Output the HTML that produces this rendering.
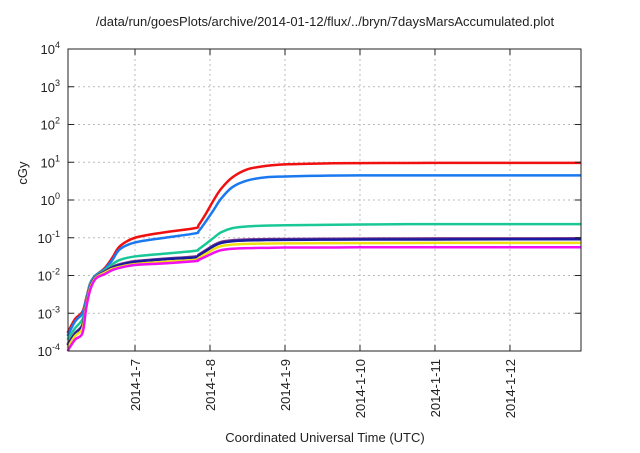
<!DOCTYPE html>
<html><head><meta charset="utf-8"><style>
body{margin:0;background:#fff;}
svg{font-family:"Liberation Sans",sans-serif;}
</style></head><body>
<svg width="640" height="448" viewBox="0 0 640 448" xmlns="http://www.w3.org/2000/svg">
<rect width="640" height="448" fill="#fff"/>
<text x="325" y="26" font-size="13" text-anchor="middle" fill="#222">/data/run/goesPlots/archive/2014-01-12/flux/../bryn/7daysMarsAccumulated.plot</text>
<text x="0" y="0" font-size="13" text-anchor="middle" fill="#222" transform="translate(27,173) rotate(-90)">cGy</text>
<text x="325" y="442" font-size="13" text-anchor="middle" fill="#222">Coordinated Universal Time (UTC)</text>
<g id="grid"></g>
<g id="series"></g>
<rect x="68" y="49" width="513" height="302" fill="none" stroke="#222" stroke-width="1"/>
<g id="axes"></g>
</svg>
<script>
const times=[6.10,6.2,6.3,6.35,6.4,6.45,6.5,6.6,6.7,6.8,7.0,7.4,7.8,7.85,7.95,8.05,8.15,8.3,8.5,8.75,9.0,9.5,10,11,12,12.95];
const seriesNames=["red","blue","teal","purple","navy","yellow","magenta"];
const seriesColors=["#f01010","#1a78f0","#19c896","#7a3a8a","#1a1aa0","#f0e010","#f010f0"];
const red=[3e-4,7e-4,1.1e-3,2.5e-3,6e-3,9e-3,1.1e-2,1.6e-2,3e-2,6e-2,0.1,0.14,0.18,0.22,0.45,1.0,2.0,4.0,6.5,8.0,8.8,9.3,9.5,9.6,9.6,9.6];
const blue=[2.5e-4,6e-4,1e-3,2.3e-3,6e-3,9e-3,1.1e-2,1.5e-2,2.6e-2,5e-2,0.075,0.1,0.13,0.15,0.28,0.55,1.1,2.2,3.3,4.0,4.2,4.4,4.5,4.5,4.5,4.5];
const teal=[2e-4,4e-4,7e-4,2e-3,5.5e-3,8.5e-3,1.05e-2,1.4e-2,2.0e-2,2.6e-2,0.032,0.038,0.045,0.05,0.07,0.1,0.14,0.18,0.2,0.21,0.215,0.22,0.225,0.23,0.23,0.23];
const purple=[1.5e-4,3e-4,5e-4,1.8e-3,5e-3,8e-3,1e-2,1.3e-2,1.7e-2,2e-2,0.024,0.028,0.032,0.036,0.048,0.064,0.078,0.086,0.09,0.092,0.093,0.094,0.095,0.096,0.096,0.097];
const navy=[1.4e-4,2.8e-4,4.7e-4,1.7e-3,4.8e-3,7.8e-3,9.8e-3,1.25e-2,1.6e-2,1.9e-2,0.023,0.027,0.03,0.034,0.045,0.06,0.073,0.081,0.085,0.087,0.088,0.089,0.09,0.09,0.091,0.091];
const yellow=[1.2e-4,2.5e-4,4e-4,1.6e-3,4.5e-3,7.5e-3,9.5e-3,1.2e-2,1.5e-2,1.7e-2,0.02,0.023,0.026,0.029,0.038,0.05,0.06,0.066,0.069,0.07,0.071,0.072,0.072,0.073,0.073,0.073];
const magenta=[1e-4,2e-4,3e-4,1.4e-3,4e-3,7e-3,9e-3,1.1e-2,1.4e-2,1.6e-2,0.019,0.021,0.024,0.026,0.032,0.04,0.047,0.051,0.053,0.054,0.055,0.055,0.056,0.056,0.056,0.056];
const xTickDays=[7,8,9,10,11,12];
const xTickLabels=["2014-1-7","2014-1-8","2014-1-9","2014-1-10","2014-1-11","2014-1-12"];
const yTickExps=[-4,-3,-2,-1,0,1,2,3,4];

const NS="http://www.w3.org/2000/svg";
const L=68,R=581,T=49,B=351,d0=6.1067,d1=12.947;
function xs(d){return L+(d-d0)/(d1-d0)*(R-L);}
function ys(v){return B-(Math.log10(v)+4)/8*(B-T);}
const grid=document.getElementById('grid'),axes=document.getElementById('axes'),sg=document.getElementById('series');
function mk(tag,attrs,parent){const e=document.createElementNS(NS,tag);for(const k in attrs)e.setAttribute(k,attrs[k]);parent.appendChild(e);return e;}
yTickExps.forEach(ex=>{
  const y=ys(Math.pow(10,ex));
  if(ex>-4&&ex<4){const g=mk('line',{x1:L,x2:R,y1:y,y2:y,stroke:'#bbb','stroke-dasharray':'2,3','stroke-width':1},grid);
  
  }
  const t1=mk('line',{x1:L,x2:L+6,y1:y,y2:y,stroke:'#222'},axes);
  
  
  const t2=mk('line',{x1:R,x2:R-6,y1:y,y2:y,stroke:'#222'},axes);
  
  
  const tx=mk('text',{x:60,y:y+5,'font-size':13,'text-anchor':'end',fill:'#222'},axes);
  
  
  tx.textContent='10';
  const sp=mk('tspan',{dy:-6,'font-size':9},tx);sp.textContent=String(ex);
});
xTickDays.forEach((d,i)=>{
  const x=xs(d);
  const g=mk('line',{x1:x,x2:x,y1:T,y2:B,stroke:'#bbb','stroke-dasharray':'2,3','stroke-width':1},grid);
  
  
  const t1=mk('line',{x1:x,x2:x,y1:B,y2:B-6,stroke:'#222'},axes);
  
  
  const t2=mk('line',{x1:x,x2:x,y1:T,y2:T+6,stroke:'#222'},axes);
  
  
  const tx=mk('text',{x:0,y:0,'font-size':13,'text-anchor':'end',fill:'#222',transform:`translate(${x+5},359) rotate(-90)`},axes);
  
  
  tx.textContent=xTickLabels[i];
});
const data=[red,blue,teal,purple,navy,yellow,magenta];
data.forEach((vals,si)=>{
  const pts=vals.map((v,i)=>[xs(times[i]),ys(v)]);
  let d='M'+pts[0][0].toFixed(2)+','+pts[0][1].toFixed(2);
  for(let i=0;i<pts.length-1;i++){
    const p0=pts[Math.max(0,i-1)],p1=pts[i],p2=pts[i+1],p3=pts[Math.min(pts.length-1,i+2)];
    const c1=[p1[0]+(p2[0]-p0[0])/6,p1[1]+(p2[1]-p0[1])/6],c2=[p2[0]-(p3[0]-p1[0])/6,p2[1]-(p3[1]-p1[1])/6];
    d+=`C${c1[0].toFixed(2)},${c1[1].toFixed(2)} ${c2[0].toFixed(2)},${c2[1].toFixed(2)} ${p2[0].toFixed(2)},${p2[1].toFixed(2)}`;
  }
  const p=mk('path',{d:d,fill:'none',stroke:seriesColors[si],'stroke-width':2.5,'stroke-linejoin':'round'},sg);
  
  
});
</script>
</body></html>
